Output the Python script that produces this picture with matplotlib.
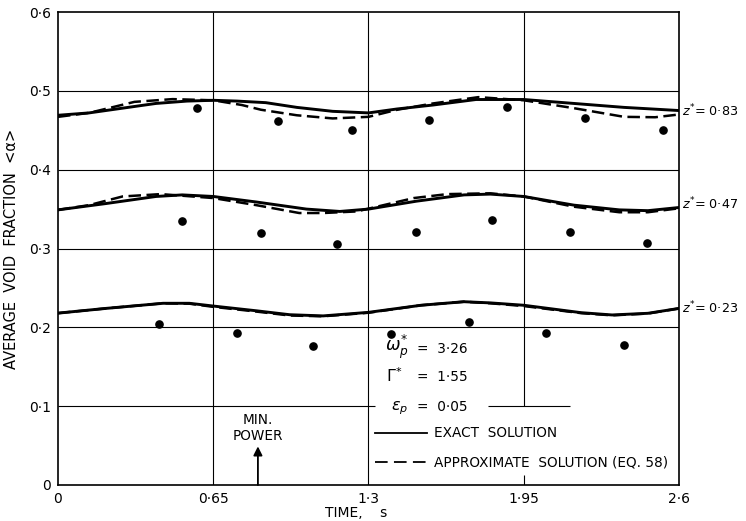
import matplotlib
matplotlib.use("Agg")
import matplotlib.pyplot as plt

plt.rcParams['font.family'] = ['DejaVu Sans']
plt.rcParams['mathtext.fontset'] = 'dejavusans'

# ---------------- data ----------------
x_ticks = [0, 0.65, 1.3, 1.95, 2.6]
x_tick_labels = ["0", "0\u00b765", "1\u00b73", "1\u00b795", "2\u00b76"]
y_ticks = [0, 0.1, 0.2, 0.3, 0.4, 0.5, 0.6]
y_tick_labels = ["0", "0\u00b71", "0\u00b72", "0\u00b73", "0\u00b74", "0\u00b75", "0\u00b76"]

# z* = 0.83
top_exact_t = [0, 0.13, 0.27, 0.41, 0.54, 0.65, 0.75, 0.87, 1.00, 1.15, 1.30, 1.42, 1.57, 1.75, 1.95, 2.16, 2.37, 2.6]
top_exact_a = [0.469, 0.472, 0.478, 0.484, 0.487, 0.488, 0.487, 0.485, 0.479, 0.474, 0.472, 0.477, 0.482, 0.489, 0.489, 0.484, 0.479, 0.475]
top_approx_t = [0, 0.13, 0.32, 0.48, 0.65, 0.77, 0.85, 1.00, 1.15, 1.30, 1.42, 1.57, 1.76, 1.95, 2.16, 2.37, 2.5, 2.6]
top_approx_a = [0.467, 0.472, 0.486, 0.4895, 0.488, 0.482, 0.476, 0.469, 0.465, 0.467, 0.476, 0.484, 0.492, 0.488, 0.478, 0.467, 0.4665, 0.470]
top_meas_t = [0.582, 0.921, 1.231, 1.553, 1.880, 2.206, 2.533]
top_meas_a = [0.478, 0.462, 0.450, 0.463, 0.480, 0.465, 0.450]

# z* = 0.47
mid_exact_t = [0, 0.20, 0.41, 0.52, 0.65, 0.83, 1.04, 1.18, 1.30, 1.42, 1.50, 1.70, 1.81, 1.95, 2.16, 2.35, 2.47, 2.6]
mid_exact_a = [0.349, 0.357, 0.366, 0.368, 0.366, 0.359, 0.350, 0.347, 0.350, 0.356, 0.360, 0.368, 0.369, 0.366, 0.355, 0.349, 0.348, 0.352]
mid_approx_t = [0, 0.13, 0.27, 0.43, 0.65, 0.83, 1.01, 1.11, 1.25, 1.49, 1.63, 1.81, 1.95, 2.16, 2.35, 2.47, 2.6]
mid_approx_a = [0.349, 0.355, 0.366, 0.369, 0.364, 0.355, 0.345, 0.345, 0.347, 0.364, 0.369, 0.370, 0.366, 0.353, 0.346, 0.346, 0.351]
mid_meas_t = [0.519, 0.850, 1.168, 1.499, 1.817, 2.143, 2.466]
mid_meas_a = [0.335, 0.320, 0.306, 0.321, 0.336, 0.321, 0.307]

# z* = 0.23
bot_exact_t = [0, 0.20, 0.44, 0.55, 0.65, 0.83, 0.97, 1.11, 1.30, 1.52, 1.70, 1.81, 1.95, 2.19, 2.32, 2.47, 2.6]
bot_exact_a = [0.218, 0.224, 0.2305, 0.2305, 0.227, 0.221, 0.216, 0.2145, 0.219, 0.228, 0.2325, 0.231, 0.228, 0.2186, 0.2157, 0.2178, 0.224]
bot_approx_t = [0, 0.20, 0.44, 0.55, 0.65, 0.83, 0.97, 1.11, 1.30, 1.52, 1.70, 1.81, 1.95, 2.19, 2.32, 2.47, 2.6]
bot_approx_a = [0.218, 0.224, 0.2305, 0.2300, 0.226, 0.2200, 0.2150, 0.2140, 0.2185, 0.228, 0.2325, 0.2305, 0.227, 0.2180, 0.2152, 0.2175, 0.224]
bot_meas_t = [0.423, 0.749, 1.068, 1.394, 1.721, 2.043, 2.370]
bot_meas_a = [0.204, 0.193, 0.176, 0.192, 0.207, 0.193, 0.178]

curve_labels = ["0\u00b783", "0\u00b747", "0\u00b723"]
curve_label_y = [0.474, 0.356, 0.225]

# ---------------- figure ----------------
fig = plt.figure(figsize=(7.46, 5.21), dpi=100)
ax = fig.add_axes([58 / 746, 1 - 485 / 521, (679 - 58) / 746, (485 - 12) / 521])
ax.set_xlim(0, 2.6)
ax.set_ylim(0, 0.6)

grid_kw = dict(color='k', lw=0.8, zorder=1, solid_capstyle='butt')
for yv in [0.2, 0.3, 0.4, 0.5]:
    ax.plot([0, 2.6], [yv, yv], **grid_kw)
ax.plot([0, 1.327], [0.1, 0.1], **grid_kw)
ax.plot([1.80, 2.143], [0.1, 0.1], **grid_kw)
ax.plot([0.65, 0.65], [0, 0.6], **grid_kw)
ax.plot([1.3, 1.3], [0, 0.6], **grid_kw)
ax.plot([1.95, 1.95], [0.1, 0.6], **grid_kw)
ax.plot([1.95, 1.95], [0, 0.013], **grid_kw)

line_kw = dict(color='k', lw=2.1, zorder=3)
dash_kw = dict(color='k', lw=1.8, zorder=3, dashes=(5, 2.2))
dot_kw = dict(color='k', ls='none', marker='o', ms=5.2, zorder=4)

for te, ae, tap, aap, tm, am in [
    (top_exact_t, top_exact_a, top_approx_t, top_approx_a, top_meas_t, top_meas_a),
    (mid_exact_t, mid_exact_a, mid_approx_t, mid_approx_a, mid_meas_t, mid_meas_a),
    (bot_exact_t, bot_exact_a, bot_approx_t, bot_approx_a, bot_meas_t, bot_meas_a),
]:
    ax.plot(te, ae, **line_kw)
    ax.plot(tap, aap, **dash_kw)
    ax.plot(tm, am, **dot_kw)

for lab, yv in zip(curve_labels, curve_label_y):
    ax.text(2.612, yv, r"$z^{*}$" + "= " + lab, fontsize=9.2, va='center', ha='left', clip_on=False)

# parameter box
fs = 9.8
ax.text(1.369, 0.175, r"$\omega_{p}^{*}$", fontsize=12.5, va='center', ha='left')
ax.text(1.505, 0.172, "=  3\u00b726", fontsize=fs, va='center', ha='left')
ax.text(1.372, 0.139, r"$\Gamma^{*}$", fontsize=11.5, va='center', ha='left')
ax.text(1.505, 0.137, "=  1\u00b755", fontsize=fs, va='center', ha='left')
ax.text(1.395, 0.098, r"$\epsilon_{p}$", fontsize=11.5, va='center', ha='left')
ax.text(1.505, 0.099, "=  0\u00b705", fontsize=fs, va='center', ha='left')
ax.plot([1.327, 1.545], [0.066, 0.066], color='k', lw=1.3, zorder=3)
ax.text(1.574, 0.066, "EXACT  SOLUTION", fontsize=fs, va='center', ha='left')
ax.plot([1.327, 1.545], [0.029, 0.029], color='k', lw=1.3, dashes=(7, 3.5), zorder=3)
ax.text(1.574, 0.029, "APPROXIMATE  SOLUTION (EQ. 58)", fontsize=fs, va='center', ha='left')

# min power marker
ax.annotate('', xy=(0.837, 0.049), xytext=(0.837, 0.0),
            arrowprops=dict(arrowstyle='-|>', color='k', lw=1.3, mutation_scale=13, shrinkA=0, shrinkB=0))
ax.text(0.837, 0.083, "MIN.", fontsize=fs, ha='center', va='center')
ax.text(0.837, 0.062, "POWER", fontsize=fs, ha='center', va='center')

# axes cosmetics
ax.set_xticks(x_ticks)
ax.set_xticklabels(x_tick_labels, fontsize=10)
ax.set_yticks(y_ticks)
ax.set_yticklabels(y_tick_labels, fontsize=10)
ax.tick_params(length=0, pad=5)
for sp in ax.spines.values():
    sp.set_linewidth(1.2)
ax.set_xlabel("TIME,    s", fontsize=10, labelpad=1)
ax.xaxis.set_label_coords(0.48, -0.045)
ax.set_ylabel("AVERAGE  VOID  FRACTION  <\u03b1>", fontsize=10.5, labelpad=10)
ax.yaxis.set_label_coords(-0.062, 0.50)

fig.savefig("out.png", dpi=100)
